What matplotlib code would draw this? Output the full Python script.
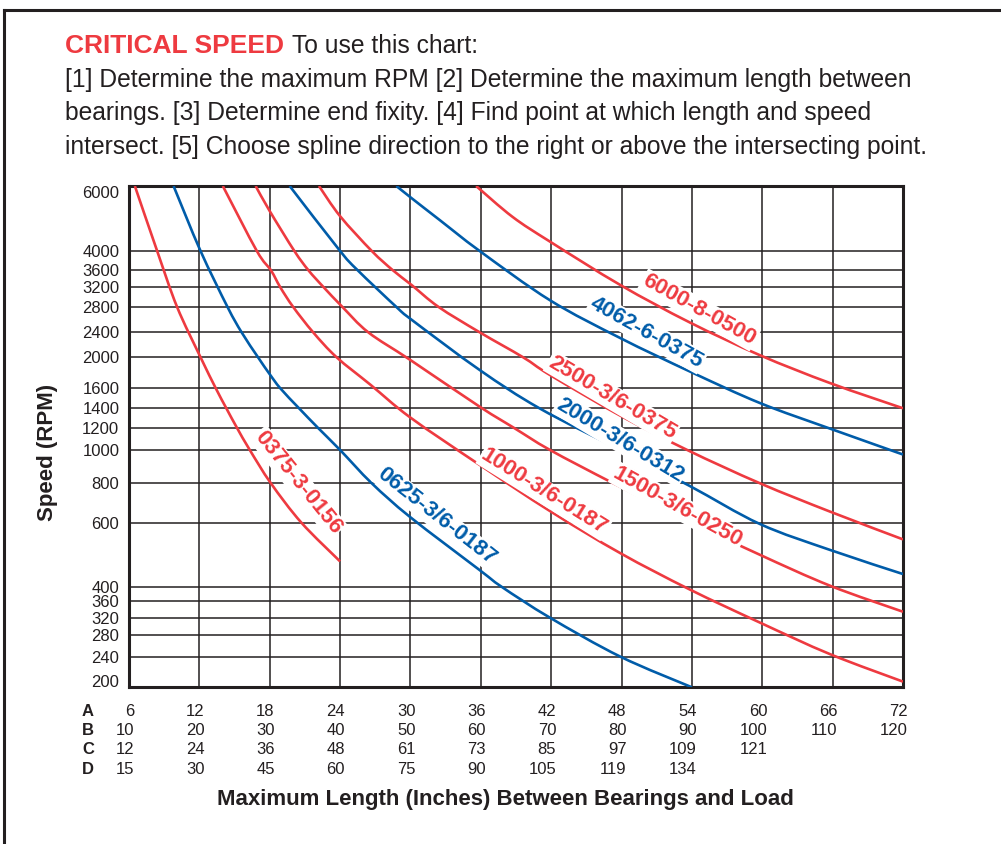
import numpy as np
import matplotlib
matplotlib.use("Agg")
import matplotlib.pyplot as plt
import matplotlib.transforms as mtransforms
from matplotlib.lines import Line2D
from matplotlib.path import Path
from matplotlib.patches import PathPatch
from matplotlib.ticker import NullLocator

# ---- data (x = row "A" length, y = RPM) ----
A_0375 = [6.5, 8.4, 10.1, 12.1, 13.4, 14.3, 15.2, 16.3, 18.1, 20.7, 24.0]
N_0375 = [6000, 4000, 2800, 2000, 1600, 1400, 1200, 1000, 800, 600, 470]

A_0625 = [9.8, 12.1, 14.4, 15.6, 17.0, 18.0, 18.9, 20.5, 22.1, 24.0, 26.7, 30.0, 35.9, 37.8, 41.9, 47.9, 54.0]
N_0625 = [6000, 4000, 2800, 2400, 2000, 1770, 1600, 1400, 1200, 1000, 800, 624, 445, 400, 320, 241, 200]

A_1000 = [14.0, 16.9, 18.1, 18.9, 20.0, 21.7, 23.7, 26.6, 30.0, 35.9, 41.9, 47.9, 53.8, 59.8, 65.8, 72.0]
N_1000 = [6000, 4000, 3600, 3200, 2800, 2400, 2000, 1640, 1300, 905, 653, 495, 393, 308, 245, 207]

A_1500 = [16.8, 18.0, 20.1, 21.3, 22.6, 24.2, 26.4, 30.0, 35.9, 38.8, 41.9, 47.3, 53.8, 59.8, 65.8, 72.0]
N_1500 = [6000, 5130, 4000, 3600, 3200, 2800, 2400, 1960, 1415, 1200, 1000, 800, 605, 490, 403, 334]

A_2000 = [19.7, 24.0, 25.5, 28.8, 30.1, 35.9, 41.0, 47.9, 53.8, 59.8, 65.8, 72.0]
N_2000 = [6000, 4000, 3600, 2800, 2590, 1825, 1400, 1000, 785, 595, 505, 434]

A_2500 = [22.2, 24.0, 26.7, 28.5, 30.1, 32.4, 35.9, 39.6, 41.9, 47.9, 53.6, 59.8, 65.8, 72.0]
N_2500 = [6000, 4970, 4000, 3600, 3250, 2800, 2400, 2000, 1760, 1320, 1000, 800, 650, 540]

A_4062 = [28.8, 30.1, 32.5, 35.9, 41.9, 47.9, 53.9, 59.8, 65.8, 72.0]
N_4062 = [6000, 5560, 4850, 4000, 2930, 2300, 1800, 1450, 1190, 970]

A_6000 = [35.6, 38.7, 41.9, 47.9, 53.8, 59.8, 65.8, 72.0]
N_6000 = [6000, 4950, 4240, 3250, 2550, 2030, 1660, 1400]

CURVE_NAMES = ["0375-3-0156", "0625-3/6-0187", "1000-3/6-0187", "1500-3/6-0250",
               "2000-3/6-0312", "2500-3/6-0375", "4062-6-0375", "6000-8-0500"]
CURVE_X = [A_0375, A_0625, A_1000, A_1500, A_2000, A_2500, A_4062, A_6000]
CURVE_Y = [N_0375, N_0625, N_1000, N_1500, N_2000, N_2500, N_4062, N_6000]

Y_TICKS = [200, 240, 280, 320, 360, 400, 600, 800, 1000, 1200, 1400, 1600,
           2000, 2400, 2800, 3200, 3600, 4000, 6000]

ROW_A = [6, 12, 18, 24, 30, 36, 42, 48, 54, 60, 66, 72]
ROW_B = [10, 20, 30, 40, 50, 60, 70, 80, 90, 100, 110, 120]
ROW_C = [12, 24, 36, 48, 61, 73, 85, 97, 109, 121]
ROW_D = [15, 30, 45, 60, 75, 90, 105, 119, 134]

# ---- styling / layout ----
RED = "#ee3a40"
BLUE = "#005ca9"
INK = "#231f20"
CURVE_COLORS = [RED, BLUE, RED, RED, BLUE, RED, BLUE, RED]

# label anchor (A, RPM) and rotation for each curve name
LABEL_POS = [(20.4, 805, -51), (32.2, 627, -38), (41.4, 750, -32), (52.8, 673, -29),
             (47.9, 1084, -31), (47.2, 1503, -30.5), (50.1, 2390, -29), (54.6, 2750, -29)]

# the printed speed axis is not evenly spaced, so map each tick to its place
# on the axis (0 = bottom, 1 = top), as measured on the original
AXIS_FRAC = np.array([0.0, 0.0599, 0.1049, 0.1388, 0.1716, 0.2001, 0.3284, 0.4070,
                      0.4734, 0.5179, 0.5566, 0.5965, 0.6584, 0.7082, 0.7587,
                      0.7980, 0.8319, 0.8704, 1.0])
AXIS_LOG = np.log10(Y_TICKS)


def speed_fwd(v):
    v = np.clip(np.asarray(v, dtype=float), 1e-6, None)
    return np.interp(np.log10(v), AXIS_LOG, AXIS_FRAC)


def speed_inv(f):
    return 10 ** np.interp(np.asarray(f, dtype=float), AXIS_FRAC, AXIS_LOG)


def smooth_path(ax, xs, ys):
    # Catmull-Rom through the read points, done in the axis' scaled space
    pts = ax.transScale.transform(np.column_stack([xs, ys]))
    p = np.vstack([pts[0], pts, pts[-1]])
    verts, codes = [pts[0]], [Path.MOVETO]
    for i in range(1, len(p) - 2):
        c1 = p[i] + (p[i + 1] - p[i - 1]) / 6
        c2 = p[i + 1] - (p[i + 2] - p[i]) / 6
        verts += [c1, c2, p[i + 1]]
        codes += [Path.CURVE4] * 3
    return Path(verts, codes)


W, H = 1001, 844
fig = plt.figure(figsize=(W / 100, H / 100), dpi=100)
plt.rcParams['font.family'] = ['Liberation Sans', 'DejaVu Sans']


def fx(px):
    return px / W


def fy(py):
    return 1 - py / H


ax = fig.add_axes([fx(129), fy(687.3), (903 - 129) / W, (687.3 - 186) / H])
ax.set_yscale('function', functions=(speed_fwd, speed_inv))
ax.set_xlim(6, 72)
ax.set_ylim(200, 6000)

ax.set_xticks(ROW_A)
ax.set_xticklabels([])
ax.set_yticks(Y_TICKS)
ax.set_yticklabels([str(t) for t in Y_TICKS])
ax.yaxis.set_minor_locator(NullLocator())
ax.xaxis.set_minor_locator(NullLocator())
ax.tick_params(axis='both', length=0, labelsize=12, colors=INK, pad=7)
yt = ax.yaxis.get_major_ticks()
yt[0].label1.set_verticalalignment('baseline')
yt[-1].label1.set_verticalalignment('top')
ax.grid(True, color=INK, linewidth=1.1)
ax.set_axisbelow(True)
for sp in ax.spines.values():
    sp.set_linewidth(2.2)
    sp.set_color(INK)

for xs, ys, c in zip(CURVE_X, CURVE_Y, CURVE_COLORS):
    ax.add_patch(PathPatch(smooth_path(ax, xs, ys), transform=ax.transLimits + ax.transAxes,
                           fill=False, edgecolor=c, linewidth=1.9, capstyle='butt', zorder=3))

for name, (lx, ly, rot), c in zip(CURVE_NAMES, LABEL_POS, CURVE_COLORS):
    ax.text(lx, ly, name, color=c, fontsize=16, fontweight='bold', rotation=rot,
            rotation_mode='anchor', ha='center', va='center', zorder=5,
            bbox=dict(facecolor='white', edgecolor='none', pad=1.0))

# row tables under the axis
blend = mtransforms.blended_transform_factory(ax.transData, fig.transFigure)
shift = mtransforms.ScaledTranslation(5 / 100, 0, fig.dpi_scale_trans)
for letter, row, py in zip("ABCD", [ROW_A, ROW_B, ROW_C, ROW_D], [711.7, 730.7, 750, 769.3]):
    fig.text(fx(88), fy(py), letter, fontsize=12, fontweight='bold', color=INK,
             ha='center', va='center')
    for a, val in zip(ROW_A, row):
        ax.text(a, fy(py), str(val), transform=blend + shift, fontsize=12,
                color=INK, ha='right', va='center', clip_on=False)

fig.text(fx(505), fy(800), "Maximum Length (Inches) Between Bearings and Load",
         fontsize=16, fontweight='bold', color=INK, ha='center', va='center')
fig.text(fx(48), fy(452), "Speed (RPM)", fontsize=16, fontweight='bold',
         color=INK, ha='center', va='center', rotation=90)

# heading and instructions
fig.text(fx(65), fy(53), "CRITICAL SPEED", fontsize=19, fontweight='bold',
         color=RED, ha='left', va='baseline')
fig.text(fx(292), fy(53), "To use this chart:", fontsize=17.75, color=INK,
         ha='left', va='baseline')
body = ["[1] Determine the maximum RPM [2] Determine the maximum length between",
        "bearings. [3] Determine end fixity. [4] Find point at which length and speed",
        "intersect. [5] Choose spline direction to the right or above the intersecting point."]
for line, py in zip(body, [87, 120, 154]):
    fig.text(fx(65), fy(py), line, fontsize=17.75, color=INK, ha='left', va='baseline')

# page frame (top and left edge of the box)
fig.add_artist(Line2D([fx(4), 1.0], [fy(10), fy(10)], color=INK, linewidth=2.2))
fig.add_artist(Line2D([fx(4), fx(4)], [fy(10), 0.0], color=INK, linewidth=2.2))

fig.savefig("out.png", dpi=100)
